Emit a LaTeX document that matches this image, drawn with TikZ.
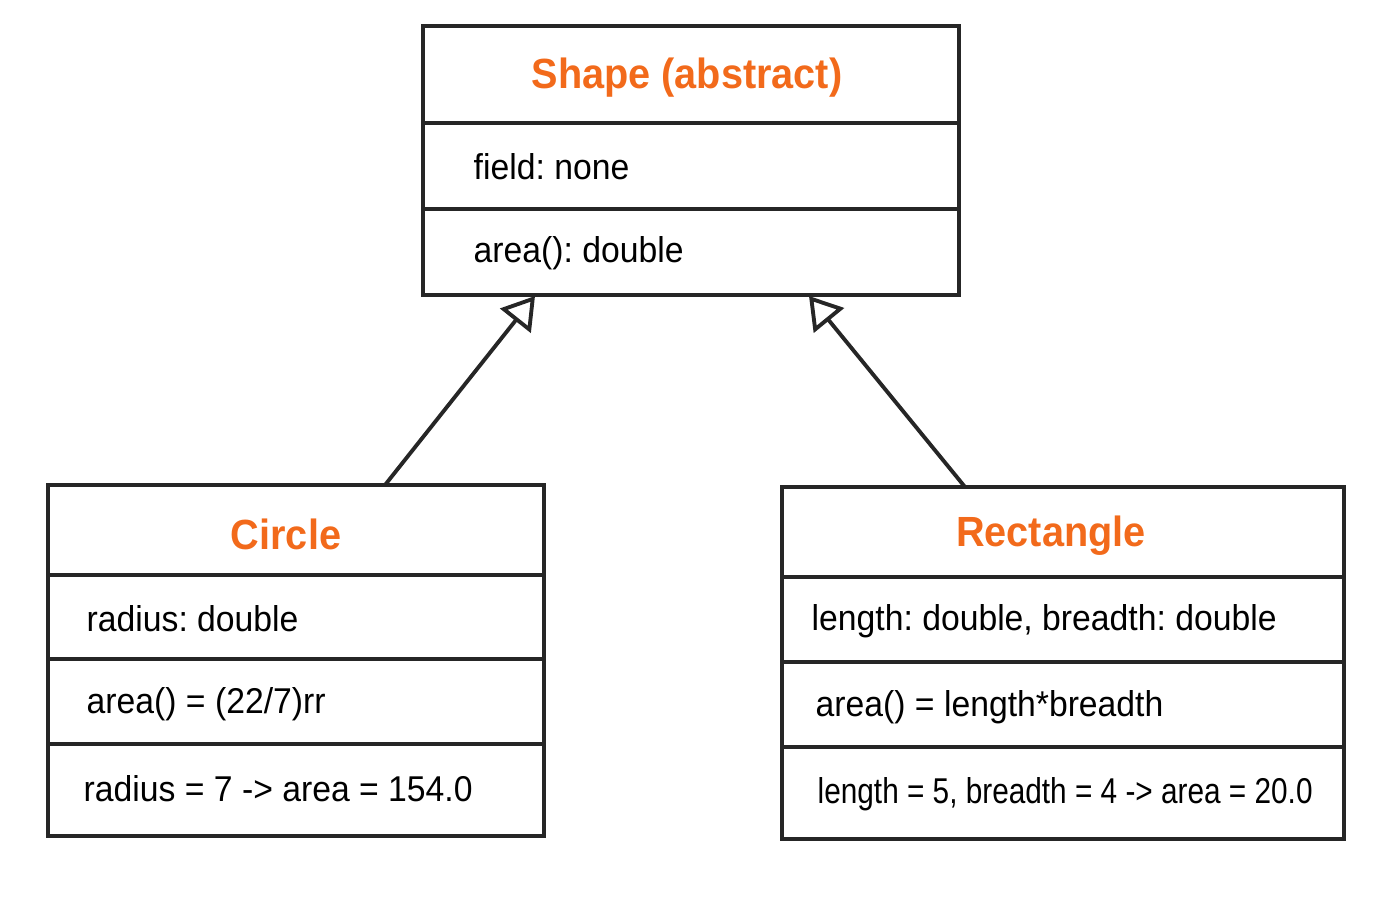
\documentclass[tikz,border=0pt]{standalone}
\usepackage{fontspec}
\setmainfont{Liberation Sans}[FakeStretch=0.94]
\newfontfamily\narrowfont{Liberation Sans}[FakeStretch=0.83]
\usetikzlibrary{arrows.meta}
\definecolor{titleorange}{RGB}{242,106,27}
\tikzset{
  box/.style={draw=black!85, line width=1.1pt},
  title/.style={font=\fontsize{12pt}{14pt}\selectfont\bfseries, text=titleorange},
  row/.style={anchor=west, font=\fontsize{10.2pt}{12pt}\selectfont, inner sep=0pt},
  inherit/.style={line width=1.1pt, draw=black!85, -{Triangle[open, length=9pt, width=11pt]}}
}
\begin{document}
\frenchspacing
\begin{tikzpicture}[x=0.01cm, y=-0.01cm]
        \useasboundingbox (0,0) rectangle (1400,900);
        % Shape
        \draw[box] (423,26) rectangle (959,295);
        \draw[box] (423,123) -- (959,123);
        \draw[box] (423,209) -- (959,209);
        \node (t0) [title] at (687,78) {Shape (abstract)};
        \node (f0) [row] at (473,167) {field: none};
        \node (m0) [row] at (473,253) {area(): double};
        % Circle
        \draw[box] (48,485) rectangle (544,836);
        \draw[box] (48,575) -- (544,575);
        \draw[box] (48,659) -- (544,659);
        \draw[box] (48,744) -- (544,744);
        \node (t1) [title] at (286,534) {Circle};
        \node (f1) [row] at (86,619) {radius: double};
        \node (m1) [row] at (86,704) {area() = (22/7)rr};
        \node (e1) [row] at (83,789) {radius = 7 -> area = 154.0};
        % Rectangle
        \draw[box] (782,487) rectangle (1344,839);
        \draw[box] (782,577) -- (1344,577);
        \draw[box] (782,662) -- (1344,662);
        \draw[box] (782,747) -- (1344,747);
        \node (t2) [title] at (1051,536) {Rectangle};
        \node (f2) [row] at (811,621) {length: double, breadth: double};
        \node (m2) [row] at (815,707) {area() = length*breadth};
        \node (e2) [row, font=\fontsize{10.2pt}{12pt}\narrowfont] at (817,794) {length = 5, breadth = 4 -> area = 20.0};
        % connectors
        \coordinate (c1) at (385,485);
        \coordinate (c2) at (965,487);
        \coordinate (s1) at (535,296);
        \coordinate (s2) at (809,296);
        \draw[inherit] (c1) -- (s1);
        \draw[inherit] (c2) -- (s2);
\end{tikzpicture}
\end{document}
